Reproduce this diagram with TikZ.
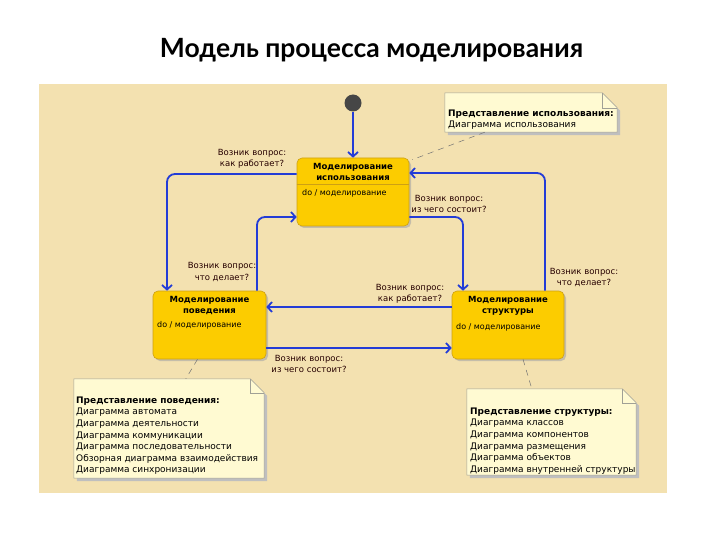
\documentclass[tikz,border=0pt]{standalone}
\usepackage{fontspec}
\setmainfont{DejaVu Sans}
\newfontfamily\titlefont{Lato}
\usetikzlibrary{arrows.meta,shadows}
\definecolor{bg}{RGB}{243,225,176}
\definecolor{stategold}{RGB}{252,204,0}
\definecolor{stateborder}{RGB}{205,160,20}
\definecolor{notefillc}{RGB}{255,250,210}
\definecolor{notelinec}{RGB}{160,160,150}
\definecolor{connblue}{RGB}{35,60,215}
\definecolor{initgray}{RGB}{70,70,70}
\tikzset{
  state/.style={draw=stateborder, fill=stategold, rounded corners=5pt, line width=0.6pt,
    minimum width=112pt, minimum height=68pt, inner sep=0pt,
    drop shadow={shadow xshift=2pt, shadow yshift=-2pt, fill=black!35, opacity=0.6}},
  boxtitle/.style={font=\bfseries\fontsize{8.5}{11}\selectfont, align=center, inner sep=0pt},
  boxdo/.style={font=\fontsize{8}{10}\selectfont, anchor=west, inner sep=0pt},
  lbl/.style={font=\fontsize{8.5}{11.5}\selectfont, align=center, inner sep=0pt, text=black!85!red},
  conn/.style={draw=connblue, line width=1.8pt, rounded corners=8pt,
    -{Straight Barb[length=4.5pt, width=10pt]}},
  notebox/.style={draw=none, inner sep=0pt},
  notetext/.style={font=\fontsize{9}{11.6}\selectfont, align=left, anchor=north west, inner sep=0pt},
  dashline/.style={draw=black!55, line width=0.5pt, dash pattern=on 6pt off 5pt},
}
\newcommand\notehead[1]{{\bfseries #1}}
\newcommand\drawnote[2]{%
  \fill[black!25] ([shift={(3pt,-3pt)}]#1.north west) -- ([shift={(3pt-#2,-3pt)}]#1.north east)
    -- ([shift={(3pt,-3pt-#2)}]#1.north east) -- ([shift={(3pt,-3pt)}]#1.south east)
    -- ([shift={(3pt,-3pt)}]#1.south west) -- cycle;
  \draw[fill=notefillc, draw=notelinec, line width=0.5pt] (#1.north west) -- ([xshift=-#2]#1.north east)
    -- ([yshift=-#2]#1.north east) -- (#1.south east) -- (#1.south west) -- cycle;
  \draw[draw=notelinec, line width=0.5pt] ([xshift=-#2]#1.north east) |- ([yshift=-#2]#1.north east);
}
\begin{document}
\begin{tikzpicture}[x=1pt, y=-1pt]
\useasboundingbox (0,0) rectangle (720,540);
\fill[white] (0,0) rectangle (720,540);
\fill[bg] (39,84) rectangle (667,493);

\node[font=\titlefont\bfseries\fontsize{26.5}{30}\selectfont, anchor=base, inner sep=0pt] (title) at (371.5,58) {Модель процесса моделирования};

% notes
\node[notebox, minimum width=172pt, minimum height=39pt] (unote) at (531,112.5) {};
\node[notebox, minimum width=190pt, minimum height=99pt] (bnote) at (169,428.5) {};
\node[notebox, minimum width=169pt, minimum height=86pt] (snote) at (551.5,432) {};
\drawnote{unote}{15pt}
\drawnote{bnote}{14pt}
\drawnote{snote}{14pt}
\node[notetext] (unotet) at (448,109.5) {\notehead{Представление использования:}\\Диаграмма использования};
\node[notetext] (bnotet) at (76,396.5) {\notehead{Представление поведения:}\\Диаграмма автомата\\Диаграмма деятельности\\Диаграмма коммуникации\\Диаграмма последовательности\\Обзорная диаграмма взаимодействия\\Диаграмма синхронизации};
\node[notetext] (snotet) at (470,407.5) {\notehead{Представление структуры:}\\Диаграмма классов\\Диаграмма компонентов\\Диаграмма размещения\\Диаграмма объектов\\Диаграмма внутренней структуры};

% states
\node[state] (use) at (353,192) {};
\node[state, minimum width=113pt] (beh) at (209.5,325) {};
\node[state] (str) at (508,325) {};
\draw[stateborder, line width=0.5pt] ([yshift=8pt]use.west) -- ([yshift=8pt]use.east);
\node[boxtitle] (usetitle) at (353,171.5) {Моделирование\\использования};
\node[boxdo] (usedo) at (302,193) {do / моделирование};
\node[boxtitle] (behtitle) at (209.5,305.5) {Моделирование\\поведения};
\node[boxdo] (behdo) at (157,325) {do / моделирование};
\node[boxtitle] (strtitle) at (508,306) {Моделирование\\структуры};
\node[boxdo] (strdo) at (456,327) {do / моделирование};

% dashed note links
\draw[dashline] ([xshift=40pt]unote.south west) -- ([shift={(3pt,-2pt)}]use.north east);
\draw[dashline] ([xshift=-12pt]beh.south) -- ([xshift=112pt]bnote.north west);
\draw[dashline] ([xshift=15pt]str.south) -- ([xshift=65pt]snote.north west);

% initial
\node[circle, fill=initgray, minimum size=17pt, inner sep=0pt] (init) at (353,103) {};
\draw[conn] (init) -- (use);

% connectors
\draw[conn] ([yshift=18pt]use.west) -| ([xshift=-42.5pt]beh.north);
\draw[conn] ([xshift=47.5pt]beh.north) |- ([yshift=-25pt]use.west);
\draw[conn] ([yshift=-25pt]use.east) -| ([xshift=-45pt]str.north);
\draw[conn] ([xshift=37pt]str.north) |- ([yshift=19pt]use.east);
\draw[conn] ([yshift=18pt]str.west) -- ([yshift=18pt]beh.east);
\draw[conn] ([yshift=-23pt]beh.east) -- ([yshift=-23pt]str.west);

% labels
\node[lbl] (l1) at (252,159) {Возник вопрос:\\как работает?};
\node[lbl] (l2) at (222,272) {Возник вопрос:\\что делает?};
\node[lbl] (l3) at (449,204) {Возник вопрос:\\из чего состоит?};
\node[lbl] (l4) at (584,277.5) {Возник вопрос:\\что делает?};
\node[lbl] (l5) at (410,294) {Возник вопрос:\\как работает?};
\node[lbl] (l6) at (309,364) {Возник вопрос:\\из чего состоит?};
\end{tikzpicture}
\end{document}
